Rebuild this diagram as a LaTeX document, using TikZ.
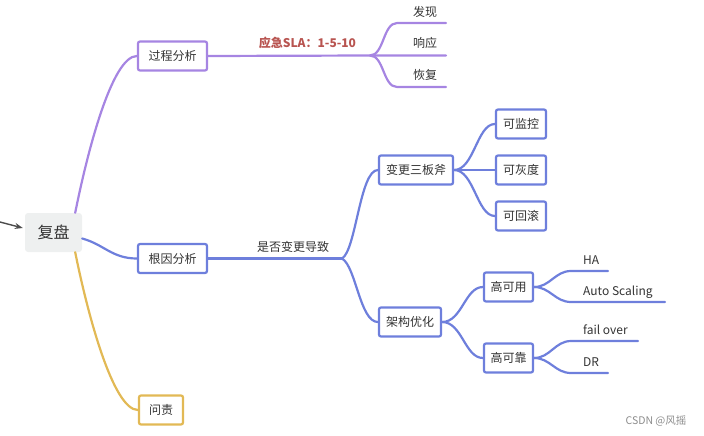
\documentclass[tikz,border=0pt]{standalone}
\usepackage{fontspec}
\newfontfamily\cjk{Noto Sans CJK SC}
\usetikzlibrary{arrows.meta}
\definecolor{procpurple}{RGB}{166,133,226}
\definecolor{causeblue}{RGB}{110,127,220}
\definecolor{blameyellow}{RGB}{226,185,85}
\definecolor{slared}{RGB}{184,84,80}
\definecolor{rootgray}{RGB}{238,240,240}
\definecolor{txtgray}{RGB}{51,51,51}
\tikzset{
  topic/.style={draw,line width=2.2pt,rounded corners=2pt,fill=white,
    minimum height=29pt,inner sep=0pt,text=txtgray,
    font=\cjk\fontsize{12}{14}\selectfont},
  leaf/.style={inner sep=0pt,text=txtgray,font=\cjk\fontsize{12}{14}\selectfont},
  branch/.style={line width=2.2pt,line cap=round},
}
\begin{document}
\begin{tikzpicture}[x=1pt,y=-1pt,>={Stealth[length=8pt,width=6pt]}]
\useasboundingbox (0,0) rectangle (704,436);
% root
\node[fill=rootgray,rounded corners=3pt,minimum width=57pt,minimum height=39pt,
  inner sep=0pt,text=txtgray,font=\cjk\fontsize{16}{18}\selectfont] (root) at (53.5,232.5) {复盘};
\coordinate (src) at (0,222);
\draw[->,draw=black!70,line width=1.4pt] (src) -- ([xshift=-2pt,yshift=4.5pt]root.west);
% first level
\node[topic,draw=procpurple,minimum width=69pt] (gc) at (172.5,56) {过程分析};
\node[topic,draw=causeblue,minimum width=69pt] (gy) at (172.5,258.5) {根因分析};
\node[topic,draw=blameyellow,minimum width=44pt] (wz) at (161,410) {问责};
\draw[branch,procpurple] ([xshift=-7pt]root.north east) .. controls +(12,-60) and +(-25,0) .. (gc.west);
\draw[branch,causeblue] ([yshift=-6pt]root.east) .. controls +(22,6) and +(-25,0) .. (gy.west);
\draw[branch,blameyellow] ([xshift=-7pt]root.south east) .. controls +(12,60) and +(-25,0) .. (wz.west);
% process
\coordinate (gcb) at (370,55.5);
\node[font=\cjk\bfseries\fontsize{12}{14}\selectfont,text=slared,inner sep=0pt] (sla) at (307.5,43) {应急SLA：1-5-10};
\node[leaf] (fx) at (425,12) {发现};
\node[leaf] (xy) at (425,43) {响应};
\node[leaf] (hf) at (425,75) {恢复};
\coordinate (fx0) at (397,23);   \coordinate (fx1) at (446,23);
\coordinate (xy1) at (446,55.5);
\coordinate (hf0) at (397,87);   \coordinate (hf1) at (446,87);
\draw[branch,procpurple] (gc.east) -- (gcb) -- (xy1);
\draw[branch,procpurple] (gcb) .. controls +(14,0) and +(-14,0) .. (fx0) -- (fx1);
\draw[branch,procpurple] (gcb) .. controls +(14,0) and +(-14,0) .. (hf0) -- (hf1);
% root cause
\coordinate (gyb) at (342,258.5);
\node[leaf] (bg) at (293,247) {是否变更导致};
\node[topic,draw=causeblue,minimum width=74pt] (sbf) at (416,170) {变更三板斧};
\node[topic,draw=causeblue,minimum width=62pt] (jg) at (410,322) {架构优化};
\draw[branch,causeblue] (gy.east) -- (gyb);
\draw[branch,causeblue] (gyb) .. controls +(14,-8) and +(-18,0) .. (sbf.west);
\draw[branch,causeblue] (gyb) .. controls +(14,8) and +(-18,0) .. (jg.west);
\node[topic,draw=causeblue,minimum width=50pt] (jk) at (521,124) {可监控};
\node[topic,draw=causeblue,minimum width=50pt] (hd) at (521,170) {可灰度};
\node[topic,draw=causeblue,minimum width=50pt] (hg) at (521,216) {可回滚};
\draw[branch,causeblue] (sbf.east) .. controls +(20,0) and +(-18,0) .. (jk.west);
\draw[branch,causeblue] (sbf.east) -- (hd.west);
\draw[branch,causeblue] (sbf.east) .. controls +(20,0) and +(-18,0) .. (hg.west);
\node[topic,draw=causeblue,minimum width=49pt] (gky) at (508.5,287) {高可用};
\node[topic,draw=causeblue,minimum width=49pt] (gkk) at (508.5,358) {高可靠};
\draw[branch,causeblue] (jg.east) .. controls +(20,0) and +(-18,0) .. (gky.west);
\draw[branch,causeblue] (jg.east) .. controls +(20,0) and +(-18,0) .. (gkk.west);
% leaves
\node[leaf,anchor=west] (ha) at (583,260) {HA};
\node[leaf,anchor=west] (as) at (583,292) {Auto Scaling};
\node[leaf,anchor=west] (fo) at (583,330) {fail over};
\node[leaf,anchor=west] (dr) at (583,362) {DR};
\coordinate (ha0) at (571,271);  \coordinate (ha1) at (608,271);
\coordinate (as0) at (571,302);  \coordinate (as1) at (665,302);
\coordinate (fo0) at (571,341);  \coordinate (fo1) at (638,341);
\coordinate (dr0) at (571,373);  \coordinate (dr1) at (608,373);
\draw[branch,causeblue] (gky.east) .. controls +(16,0) and +(-16,0) .. (ha0) -- (ha1);
\draw[branch,causeblue] (gky.east) .. controls +(16,0) and +(-16,0) .. (as0) -- (as1);
\draw[branch,causeblue] (gkk.east) .. controls +(16,0) and +(-16,0) .. (fo0) -- (fo1);
\draw[branch,causeblue] (gkk.east) .. controls +(16,0) and +(-16,0) .. (dr0) -- (dr1);
% watermark
\node[text=black!45,inner sep=0pt,font=\cjk\fontsize{10.5}{12}\selectfont] (mark) at (656,421) {CSDN @风摇};
\end{tikzpicture}
\end{document}
